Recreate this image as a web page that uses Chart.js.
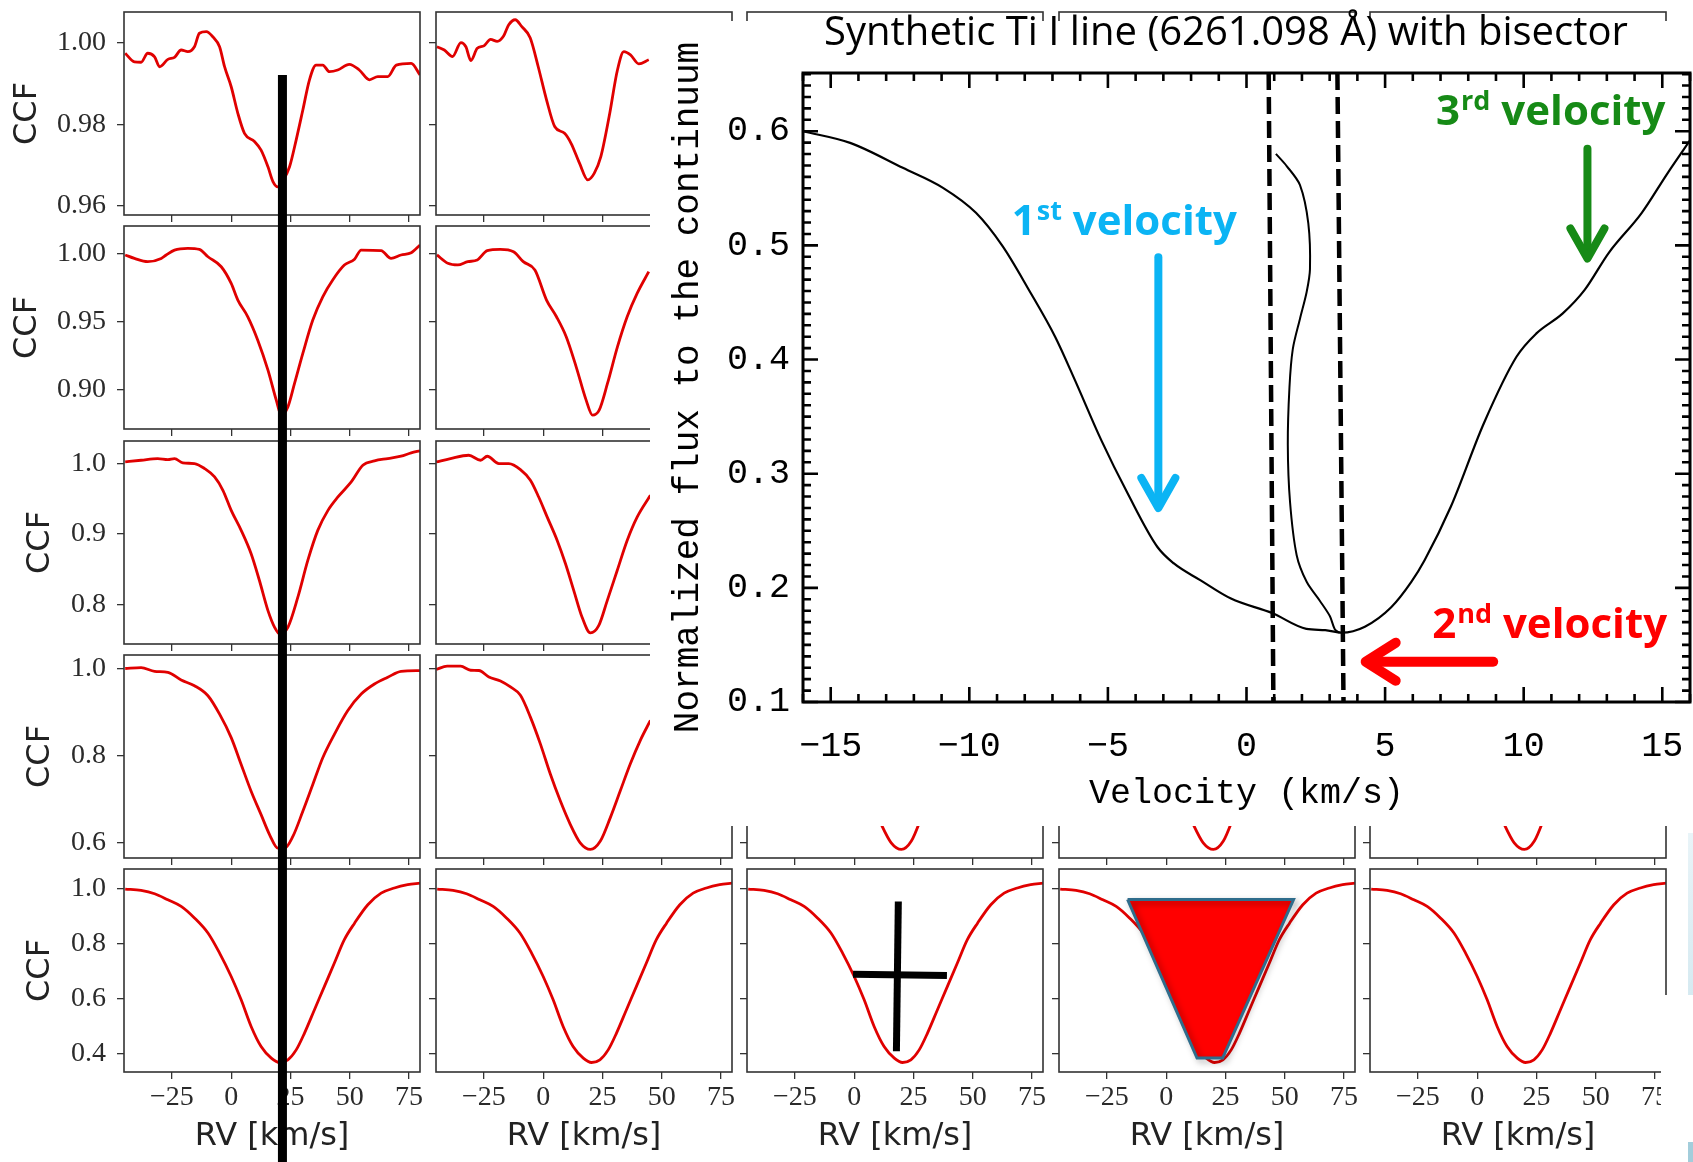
<!DOCTYPE html>
<html>
<head>
<meta charset="utf-8">
<script src="https://cdn.jsdelivr.net/npm/chart.js@4.4.1/dist/chart.umd.min.js"></script>
<style>
  body { margin: 0; background: #fff; width: 1693px; height: 1162px; overflow: hidden; position: relative; }
  canvas { position: absolute; }
  .cover { position: absolute; }
</style>
</head>
<body>
<script>
// ---- small CCF panels: x = RV [km/s], y = CCF ----
const rvTicks = [-25, 0, 25, 50, 75];
const rowYTicks = [[0.96, 0.98, 1.00], [0.90, 0.95, 1.00], [0.8, 0.9, 1.0], [0.6, 0.8, 1.0], [0.4, 0.6, 0.8, 1.0]];
const rowYRange = [[0.9578, 1.0075], [0.8715, 1.020], [0.744, 1.032], [0.565, 1.031], [0.3345, 1.073]];
const rowDecimals = [2, 2, 1, 1, 1];

const rvR1a = [-44.7,-40.8,-38.0,-35.2,-32.3,-30.2,-26.7,-23.9,-21.1,-18.3,-15.5,-13.4,-10.5,-7.7,-4.9,-2.8,0,2.8,5.6,9.8,12.6,15.5,17.6,19.7,21.8,24.6,27.4,30.2,33.0,35.8,38.6,41.4,44.9,49.8,54.0,58.3,61.8,66.0,69.6,75.9,79.6];
const ccfR1a = [0.9974,0.9953,0.9952,0.9974,0.9965,0.9941,0.9959,0.9964,0.9982,0.9978,0.9990,1.0023,1.0027,1.0014,0.9990,0.9941,0.9892,0.9827,0.9778,0.9758,0.9737,0.9696,0.9660,0.9647,0.9662,0.9696,0.9762,0.9835,0.9909,0.9945,0.9945,0.9929,0.9933,0.9947,0.9933,0.9909,0.9917,0.9917,0.9945,0.9949,0.9921];
const rvR1b = [-44.8,-41.7,-38.2,-34.7,-32.6,-30.5,-27.8,-25,-22.2,-19.4,-16.7,-14.6,-11.8,-9.0,-5.5,-2.1,1.4,4.9,9.0,11.8,15.3,18.8,21.5,24.3,27.8,31.3,34.0,36.8,40.3,44.5];
const ccfR1b = [0.9990,0.9982,0.9966,1.0000,0.9990,0.9956,0.9986,0.9992,1.0008,1.0003,1.0016,1.0043,1.0056,1.0039,1.0012,0.9941,0.9860,0.9794,0.9778,0.9753,0.9705,0.9664,0.9680,0.9721,0.9819,0.9933,0.9978,0.9970,0.9948,0.9958];

const rvR2a = [-44.7,-40.8,-35.2,-29.5,-27.4,-23.9,-18.3,-13.4,-9.8,-4.2,0,2.8,7.0,11.2,15.5,19.0,21.1,23.9,26.7,30.2,34.4,38.6,42.8,47.7,52.0,54.8,63.2,67.4,71.6,75.9,79.6];
const ccfR2a = [0.9988,0.9963,0.9939,0.9963,0.9988,1.0024,1.0037,1.0029,0.9975,0.9902,0.9780,0.9658,0.9536,0.9365,0.9146,0.8926,0.8816,0.8877,0.9048,0.9268,0.9512,0.9682,0.9805,0.9914,0.9957,1.0024,1.0020,0.9963,0.9988,1.0004,1.0061];
const rvR2b = [-44.8,-40.2,-36.0,-31.8,-27.8,-23.6,-18.1,-12.5,-8.4,-3.5,1.4,5.6,9.7,13.9,18.1,20.8,23.6,27.1,31.3,35.4,39.6,44.5];
const ccfR2b = [0.9988,0.9927,0.9915,0.9939,0.9951,1.0020,1.0029,1.0012,0.9939,0.9878,0.9658,0.9536,0.9390,0.9170,0.8926,0.8816,0.8853,0.9048,0.9316,0.9536,0.9707,0.9866];

const rvR3a = [-44.7,-38.0,-31.0,-26.7,-23.9,-20.4,-15.5,-11.2,-7.0,-3.5,0,4.2,8.4,11.9,15.5,18.3,20.4,23.9,28.1,32.3,36.5,40.8,45.0,50.6,55.5,60.4,66.0,71.6,75.9,79.6];
const ccfR3a = [1.0024,1.0047,1.0071,1.0057,1.0071,1.0009,1.0000,0.9929,0.9810,0.9621,0.9336,0.9052,0.8720,0.8341,0.7914,0.7677,0.7583,0.7677,0.8104,0.8626,0.9052,0.9336,0.9526,0.9739,0.9976,1.0038,1.0071,1.0104,1.0152,1.0180];
const rvR3b = [-45.1,-39.1,-31.4,-26.4,-23.6,-18.7,-14.5,-9.6,-5.4,-1.9,1.7,5.9,9.4,12.9,16.4,19.9,23.4,27.0,31.2,35.4,39.6,45.2];
const ccfR3b = [1.0023,1.0071,1.0118,1.0047,1.0104,1.0000,1.0000,0.9915,0.9763,0.9525,0.9240,0.8909,0.8578,0.8198,0.7819,0.7597,0.7700,0.8056,0.8483,0.8909,0.9240,0.9550];

const rvR4a = [-44.7,-38.0,-32.3,-26.7,-21.1,-15.5,-9.8,-4.9,0,4.2,8.4,12.6,16.2,19.7,22.5,26.0,30.2,34.4,38.6,43.5,49.1,54.8,60.4,66.0,71.6,79.6];
const ccfR4a = [1.000,1.002,0.9936,0.9913,0.9736,0.9605,0.9375,0.8952,0.8414,0.7798,0.7183,0.6645,0.6183,0.5876,0.5876,0.6145,0.6722,0.7337,0.7952,0.8490,0.9029,0.9413,0.9644,0.9798,0.9936,0.9951];
const rvR4b = [-45.1,-40.5,-34.8,-30.6,-27.1,-22.9,-18.0,-13.8,-9.6,-5.4,-1.2,3.0,7.2,11.4,15.6,19.9,24.1,28.3,32.5,36.7,40.9,45.2];
const ccfR4b = [0.9977,1.0053,1.0053,0.9960,0.9954,0.9806,0.9714,0.9576,0.9384,0.8884,0.8270,0.7578,0.6962,0.6424,0.6000,0.5847,0.6039,0.6577,0.7192,0.7808,0.8346,0.8807];

const rvR5 = [-44.7,-38.0,-32.3,-26.7,-21.1,-15.5,-9.8,-4.9,0,4.2,8.4,12.6,16.9,20.4,23.9,27.4,30.9,35.1,39.3,43.5,47.7,52.0,57.6,63.2,68.8,74.4,79.6];
const ccfR5 = [1.0,0.995,0.983,0.961,0.937,0.895,0.840,0.767,0.682,0.597,0.500,0.427,0.385,0.369,0.379,0.415,0.476,0.561,0.646,0.731,0.816,0.876,0.943,0.985,1.004,1.016,1.022];

// marks drawn over the panels
const markerRV = 21.6;
const crossVertRV = [18.6, 17.8], crossVertCCF = [0.955, 0.41];
const crossHorzRV = [-0.5, 39.1], crossHorzCCF = [0.690, 0.686];
const trapRV = [-16.3, 53.7, 23.8, 13.0, -16.3], trapCCF = [0.962, 0.962, 0.385, 0.385, 0.962];

// ---- inset: synthetic Ti I line ----
const velTicks = [-15, -10, -5, 0, 5, 10, 15];
const fluxTicks = [0.1, 0.2, 0.3, 0.4, 0.5, 0.6];
const vel = [-16.0,-14.3,-12.4,-10.95,-9.76,-8.8,-7.86,-6.9,-6.19,-5.24,-4.29,-3.22,-2.62,-1.67,-0.56,0.94,2.16,2.84,3.44,4.27,5.22,5.94,6.42,7.37,8.56,9.74,10.46,11.41,12.2,13.07,14.26,15.2,16.0];
const flux = [0.600,0.5898,0.5679,0.5504,0.5285,0.4993,0.4614,0.4198,0.3820,0.3294,0.2828,0.2360,0.2214,0.2068,0.1906,0.1777,0.1641,0.1630,0.1607,0.1660,0.1830,0.2050,0.2240,0.271,0.344,0.4024,0.4229,0.4404,0.461,0.4935,0.5285,0.5636,0.592];
const bisVel = [1.06,1.45,1.93,2.23,2.29,2.17,1.93,1.67,1.55,1.49,1.57,1.81,2.17,2.65,3.01,3.19,3.36];
const bisFlux = [0.5802,0.5695,0.5528,0.5193,0.4792,0.4592,0.4358,0.4091,0.3757,0.3256,0.2754,0.2286,0.2053,0.1885,0.1751,0.1635,0.1607];
const dashLeftVel = [0.80, 0.97], dashRightVel = [3.28, 3.50], dashFlux = [0.651, 0.1];

const RED = '#e00000';
const pts = (xs, ys) => xs.map((x, i) => ({ x, y: ys[i] }));
const fmtMinus = v => (v < 0 ? '\u2212' + Math.abs(v) : String(v));

const colLeft = [124, 436, 747, 1059, 1370];
const rowTop = [12, 226, 441, 655, 869];
const PW = 296, PH = 203;

function addCanvas(left, top, w, h) {
  const cv = document.createElement('canvas');
  cv.width = w; cv.height = h;
  cv.style.left = left + 'px'; cv.style.top = top + 'px';
  cv.style.width = w + 'px'; cv.style.height = h + 'px';
  document.body.appendChild(cv);
  return cv;
}

const framePlugin = {
  id: 'frame',
  afterDatasetsDraw(chart) {
    const a = chart.chartArea, ctx = chart.ctx;
    ctx.save();
    ctx.strokeStyle = '#333';
    ctx.lineWidth = 1.6;
    ctx.strokeRect(a.left, a.top, a.right - a.left, a.bottom - a.top);
    ctx.restore();
  }
};

const shadowPlugin = {
  id: 'shadow',
  beforeDatasetDraw(chart, args) {
    if (!args.meta._dataset.shadow) return;
    const ctx = chart.ctx;
    ctx.save();
    ctx.shadowColor = 'rgba(0,0,0,0.35)';
    ctx.shadowBlur = 6;
    ctx.shadowOffsetX = 3;
    ctx.shadowOffsetY = 3;
  },
  afterDatasetDraw(chart, args) {
    if (args.meta._dataset.shadow) chart.ctx.restore();
  }
};

function seriesFor(r, c) {
  const rows = [[rvR1a, ccfR1a, rvR1b, ccfR1b], [rvR2a, ccfR2a, rvR2b, ccfR2b],
                [rvR3a, ccfR3a, rvR3b, ccfR3b], [rvR4a, ccfR4a, rvR4b, ccfR4b],
                [rvR5, ccfR5, rvR5, ccfR5]];
  const s = rows[r];
  return c === 0 ? [s[0], s[1]] : [s[2], s[3]];
}

function makePanel(r, c) {
  const padL = c === 0 ? 124 : 10, padT = 4, padR = 4, padB = r === 4 ? 90 : 10;
  const cv = addCanvas(colLeft[c] - padL, rowTop[r] - padT, padL + PW + padR, padT + PH + padB);
  const datasets = [];
  // panels of columns 3-5 in rows 1-3 sit entirely under the inset
  if (c < 2 || r >= 3) {
    const [xs, ys] = seriesFor(r, c);
    datasets.push({
      data: pts(xs, ys), borderColor: RED, borderWidth: 2.8, pointRadius: 0,
      cubicInterpolationMode: 'monotone', order: 2
    });
  }
  if (r === 4 && c === 2) {
    datasets.push({ data: pts(crossVertRV, crossVertCCF), borderColor: '#000', borderWidth: 7, pointRadius: 0, tension: 0, order: 0 });
    datasets.push({ data: pts(crossHorzRV, crossHorzCCF), borderColor: '#000', borderWidth: 7, pointRadius: 0, tension: 0, order: 0 });
  }
  if (r === 4 && c === 3) {
    datasets.push({ data: pts(trapRV, trapCCF), borderColor: '#2f6d8c', borderWidth: 3, backgroundColor: '#ff0000',
      fill: 'shape', pointRadius: 0, tension: 0, order: 0, shadow: true, borderJoinStyle: 'miter' });
  }
  const dec = rowDecimals[r];
  new Chart(cv, {
    type: 'line',
    data: { datasets },
    plugins: [framePlugin, shadowPlugin],
    options: {
      responsive: false, animation: false, devicePixelRatio: 1, events: [],
      layout: { padding: { left: 0, top: padT, right: padR, bottom: 0 } },
      plugins: { legend: { display: false }, tooltip: { enabled: false } },
      scales: {
        x: {
          type: 'linear', min: -45.2, max: 79.6,
          afterBuildTicks: s => { s.ticks = rvTicks.map(v => ({ value: v })); },
          afterFit: s => { s.height = padB; s.paddingLeft = s.paddingRight = 0; },
          grid: { drawOnChartArea: false, drawTicks: true, tickLength: 7, color: '#333', lineWidth: 1.3 },
          border: { display: false },
          ticks: { display: r === 4, padding: 2, color: '#2a2a2a', maxRotation: 0,
                   font: { family: 'Liberation Serif', size: 28 }, callback: v => fmtMinus(v) },
          title: { display: r === 4, text: 'RV [km/s]', color: '#222',
                   font: { family: 'DejaVu Sans', size: 32 }, padding: { top: 0, bottom: 5.8 } }
        },
        y: {
          min: rowYRange[r][0], max: rowYRange[r][1],
          afterBuildTicks: s => { s.ticks = rowYTicks[r].map(v => ({ value: v })); },
          afterFit: s => { s.width = padL; s.paddingTop = s.paddingBottom = 0; },
          grid: { drawOnChartArea: false, drawTicks: true, tickLength: 7, color: '#333', lineWidth: 1.3 },
          border: { display: false },
          ticks: { display: c === 0, padding: 11, color: '#2a2a2a',
                   font: { family: 'Liberation Serif', size: 28 }, callback: v => v.toFixed(dec) },
          title: { display: c === 0, text: 'CCF', color: '#222',
                   font: { family: 'DejaVu Sans', size: 32 }, padding: { top: r < 2 ? 8.8 : 21.8, bottom: 0 } }
        }
      }
    }
  });
}

for (let r = 0; r < 5; r++) for (let c = 0; c < 5; c++) makePanel(r, c);

// vertical black marker across the first column
(function () {
  const cv = addCanvas(114, 0, 316, 1162);
  new Chart(cv, {
    type: 'line',
    data: { datasets: [{ data: [{ x: markerRV, y: 75 }, { x: markerRV, y: 1162 }], borderColor: '#000', borderWidth: 9, pointRadius: 0 }] },
    options: {
      responsive: false, animation: false, devicePixelRatio: 1, events: [],
      layout: { padding: { left: 10, right: 10, top: 0, bottom: 0 } },
      plugins: { legend: { display: false }, tooltip: { enabled: false } },
      scales: {
        x: { type: 'linear', min: -45.2, max: 79.6, display: false },
        y: { min: 0, max: 1162, reverse: true, display: false }
      }
    }
  });
})();

// ---- inset chart ----
const arrows = [
  { from: [-3.18, 0.4897], to: [-3.18, 0.270], color: '#0bb4f4', width: 8, back: 30, half: 17 },
  { from: [12.3, 0.5846], to: [12.3, 0.4885], color: '#168a16', width: 8, back: 30, half: 17 },
  { from: [8.9, 0.1353], to: [4.3, 0.1353], color: '#ff0000', width: 10, back: 30, half: 19 }
];
const labels = [
  { at: [-8.47, 0.509], main: '1', sup: 'st', rest: ' velocity', color: '#0bb4f4' },
  { at: [6.84, 0.6053], main: '3', sup: 'rd', rest: ' velocity', color: '#168a16' },
  { at: [6.70, 0.1558], main: '2', sup: 'nd', rest: ' velocity', color: '#ff0000' }
];

const insetDecor = {
  id: 'insetDecor',
  beforeDraw(chart) {
    // white box of the pasted inset, starting just below the panel tops
    const ctx = chart.ctx;
    ctx.save();
    ctx.fillStyle = '#fff';
    ctx.fillRect(0, 21, chart.width, chart.height - 21);
    ctx.restore();
  },
  afterDraw(chart) {
    const { ctx, chartArea: a, scales: { x, y } } = chart;
    ctx.save();
    ctx.strokeStyle = '#000';
    ctx.lineWidth = 3;
    ctx.strokeRect(a.left, a.top, a.right - a.left, a.bottom - a.top);
    ctx.lineWidth = 2.6;
    ctx.beginPath();
    for (let v = -16; v <= 16; v++) {
      const px = x.getPixelForValue(v), len = v % 5 === 0 ? 15 : 8;
      ctx.moveTo(px, a.bottom); ctx.lineTo(px, a.bottom - len);
      ctx.moveTo(px, a.top); ctx.lineTo(px, a.top + len);
    }
    for (let k = 10; k <= 65; k++) {
      const py = y.getPixelForValue(k / 100), len = k % 10 === 0 ? 15 : 8;
      ctx.moveTo(a.left, py); ctx.lineTo(a.left + len, py);
      ctx.moveTo(a.right, py); ctx.lineTo(a.right - len, py);
    }
    ctx.stroke();

    // arrows
    ctx.lineCap = 'round'; ctx.lineJoin = 'round';
    arrows.forEach(ar => {
      const x0 = x.getPixelForValue(ar.from[0]), y0 = y.getPixelForValue(ar.from[1]);
      const x1 = x.getPixelForValue(ar.to[0]), y1 = y.getPixelForValue(ar.to[1]);
      const ang = Math.atan2(y1 - y0, x1 - x0);
      ctx.strokeStyle = ar.color; ctx.lineWidth = ar.width;
      ctx.beginPath();
      ctx.moveTo(x0, y0); ctx.lineTo(x1 - Math.cos(ang) * ar.width * 0.6, y1 - Math.sin(ang) * ar.width * 0.6);
      ctx.stroke();
      const bx = x1 - Math.cos(ang) * ar.back, by = y1 - Math.sin(ang) * ar.back;
      const nx = -Math.sin(ang) * ar.half, ny = Math.cos(ang) * ar.half;
      ctx.beginPath();
      ctx.moveTo(bx + nx, by + ny); ctx.lineTo(x1, y1); ctx.lineTo(bx - nx, by - ny);
      ctx.stroke();
    });

    // labels with superscripts
    ctx.textAlign = 'left'; ctx.textBaseline = 'alphabetic';
    labels.forEach(l => {
      let px = x.getPixelForValue(l.at[0]);
      const py = y.getPixelForValue(l.at[1]);
      ctx.fillStyle = l.color;
      ctx.font = 'bold 42px "Open Sans"';
      ctx.fillText(l.main, px, py);
      px += ctx.measureText(l.main).width + 1;
      ctx.font = 'bold 27px "Open Sans"';
      ctx.fillText(l.sup, px, py - 15);
      px += ctx.measureText(l.sup).width;
      ctx.font = 'bold 42px "Open Sans"';
      ctx.fillText(l.rest, px, py);
    });

    // title
    ctx.fillStyle = '#000';
    ctx.textAlign = 'center';
    ctx.font = '40px "Open Sans"';
    ctx.fillText('Synthetic Ti I line (6261.098 \u00C5) with bisector', 576, 45);
    ctx.restore();
  }
};

(function () {
  const cv = addCanvas(650, 0, 1043, 826);
  new Chart(cv, {
    type: 'line',
    data: {
      datasets: [
        { data: pts(vel, flux), borderColor: '#000', borderWidth: 2.2, pointRadius: 0, cubicInterpolationMode: 'monotone' },
        { data: pts(bisVel, bisFlux), borderColor: '#000', borderWidth: 2, pointRadius: 0, tension: 0.3 },
        { data: pts(dashLeftVel, dashFlux), borderColor: '#000', borderWidth: 4.5, borderDash: [17, 7], pointRadius: 0 },
        { data: pts(dashRightVel, dashFlux), borderColor: '#000', borderWidth: 4.5, borderDash: [17, 7], pointRadius: 0 }
      ]
    },
    plugins: [insetDecor],
    options: {
      responsive: false, animation: false, devicePixelRatio: 1, events: [],
      layout: { padding: { left: 0, top: 73, right: 3, bottom: 0 } },
      plugins: { legend: { display: false }, tooltip: { enabled: false } },
      scales: {
        x: {
          type: 'linear', min: -16, max: 16,
          afterBuildTicks: s => { s.ticks = velTicks.map(v => ({ value: v })); },
          afterFit: s => { s.height = 124; s.paddingLeft = s.paddingRight = 0; },
          grid: { display: false, drawTicks: false },
          border: { display: false },
          ticks: { padding: 24, color: '#000', maxRotation: 0,
                   font: { family: 'Liberation Mono', size: 35 }, callback: v => fmtMinus(v) },
          title: { display: true, text: 'Velocity (km/s)', color: '#000',
                   font: { family: 'Liberation Mono', size: 35 }, padding: { top: 0, bottom: 11.5 } }
        },
        y: {
          min: 0.1, max: 0.651,
          afterBuildTicks: s => { s.ticks = fluxTicks.map(v => ({ value: v })); },
          afterFit: s => { s.width = 153; s.paddingTop = s.paddingBottom = 0; },
          grid: { display: false, drawTicks: false },
          border: { display: false },
          ticks: { padding: 13, color: '#000',
                   font: { family: 'Liberation Mono', size: 35 }, callback: v => v.toFixed(1) },
          title: { display: true, text: 'Normalized flux to the continuum', color: '#000',
                   font: { family: 'Liberation Mono', size: 36 }, padding: { top: 17, bottom: 0 } }
        }
      }
    }
  });
})();
</script>
<div class="cover" style="left:1661px;top:995px;width:32px;height:167px;background:#fff"></div>
<div class="cover" style="left:1688px;top:833px;width:5px;height:162px;background:linear-gradient(#e9f4f8,#d6eaf1)"></div>
<div class="cover" style="left:1688px;top:1142px;width:5px;height:20px;background:#a3cddb"></div>
</body>
</html>
